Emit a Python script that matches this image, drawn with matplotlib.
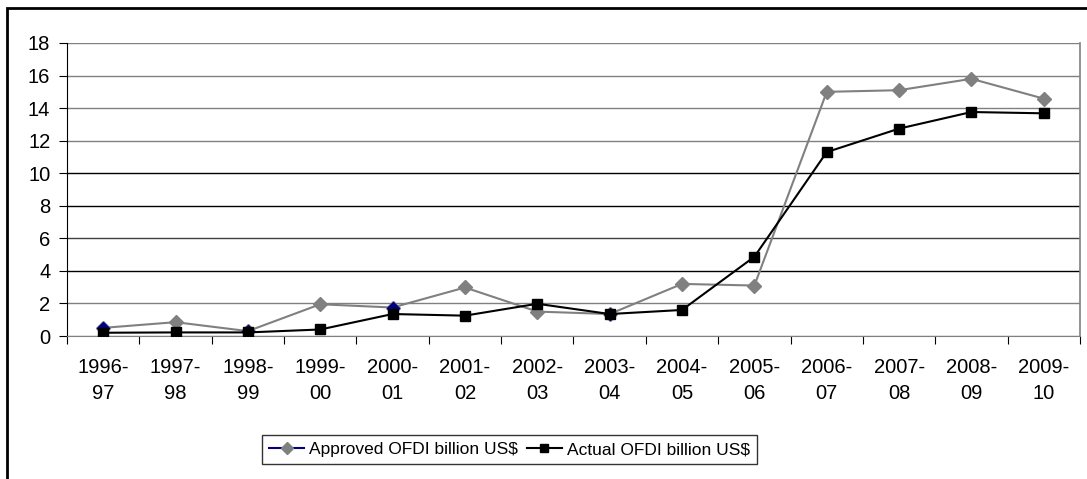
import matplotlib
matplotlib.use("Agg")
import matplotlib.pyplot as plt
from matplotlib.lines import Line2D
from matplotlib.patches import Rectangle

plt.rcParams['font.family'] = ['Liberation Sans', 'DejaVu Sans']

categories = ["1996-\n97", "1997-\n98", "1998-\n99", "1999-\n00", "2000-\n01", "2001-\n02",
              "2002-\n03", "2003-\n04", "2004-\n05", "2005-\n06", "2006-\n07", "2007-\n08",
              "2008-\n09", "2009-\n10"]
approved = [0.5, 0.85, 0.3, 1.95, 1.75, 2.98, 1.5, 1.35, 3.2, 3.1, 15.0, 15.1, 15.8, 14.58]
actual = [0.2, 0.22, 0.22, 0.4, 1.35, 1.25, 1.98, 1.35, 1.6, 4.87, 11.3, 12.74, 13.76, 13.68]
navy_points = [0, 2, 4, 7]
yticks = [0, 2, 4, 6, 8, 10, 12, 14, 16, 18]

fig = plt.figure(figsize=(10.87, 4.79), dpi=100)
W, H = 1087, 479
ax = fig.add_axes([67 / W, (H - 336) / H, 1013 / W, 293 / H])

x = list(range(len(categories)))

grid_colors = {0: '#808080', 2: '#808080', 4: '#000000', 6: '#404040', 8: '#000000',
               10: '#000000', 12: '#808080', 14: '#808080', 16: '#808080', 18: '#808080'}
for v in yticks:
    ax.axhline(v, color=grid_colors[v], lw=1.0, zorder=1)

ax.plot(x, approved, color='#808080', lw=1.5, marker='D', ms=7,
        mfc='#808080', mec='#808080', zorder=3)
for i in navy_points:
    ax.plot([x[i]], [approved[i]], marker='D', ms=6, color='#000080', zorder=3.5, ls='none')
ax.plot(x, actual, color='#000000', lw=1.5, marker='s', ms=7,
        mfc='#000000', mec='#000000', zorder=4)

ax.set_xlim(-0.5, len(categories) - 0.5)
ax.set_ylim(0, 18)
ax.set_yticks(yticks)
ax.set_yticklabels([str(v) for v in yticks], fontsize=14.5)
ax.set_xticks([i - 0.5 for i in range(len(categories) + 1)])
ax.set_xticklabels([])
ax.set_xticks(x, minor=True)
ax.set_xticklabels(categories, minor=True, fontsize=14.5, linespacing=1.45)
ax.tick_params(axis='x', which='minor', length=0, pad=16)
ax.tick_params(axis='x', which='major', length=6, direction='out', color='black')
ax.tick_params(axis='y', length=6, direction='out', color='black', pad=6)

ax.spines['top'].set_visible(False)
ax.spines['right'].set_color('#808080')
ax.spines['right'].set_linewidth(1.2)
ax.spines['left'].set_color('black')
ax.spines['bottom'].set_color('#808080')

h1 = Line2D([], [], color='#000080', lw=1.5, marker='D', ms=6, mfc='#808080', mec='#808080')
h2 = Line2D([], [], color='black', lw=1.5, marker='s', ms=6, mfc='black', mec='black')
leg = fig.legend([h1, h2], ["Approved OFDI billion US$", "Actual OFDI billion US$"],
                 loc='center', bbox_to_anchor=(509.5 / W, 29.5 / H), ncol=2,
                 fontsize=12.5, frameon=True, fancybox=False, handlelength=2.0,
                 handletextpad=0.3, columnspacing=0.5, borderpad=0.4, borderaxespad=0)
leg.get_frame().set_edgecolor('black')
leg.get_frame().set_linewidth(1.0)

fig.patches.append(Rectangle((7 / W, -0.1), 1.2, (H - 8) / H + 0.1, transform=fig.transFigure,
                             fill=False, edgecolor='black', lw=2.0))

fig.savefig('out.png', dpi=100)
